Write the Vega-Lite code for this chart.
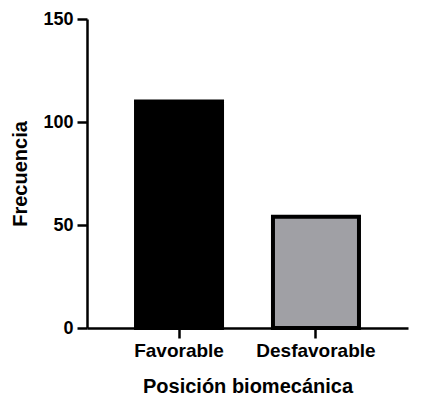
{
  "$schema": "https://vega.github.io/schema/vega-lite/v6.json",
  "width": 321,
  "height": 309,
  "autosize": "none",
  "padding": {"left": 87, "top": 19, "right": 25, "bottom": 83},
  "background": "white",
  "config": {
    "view": {"stroke": null},
    "font": "Liberation Sans",
    "axis": {
      "domainColor": "black",
      "domainWidth": 2.5,
      "tickColor": "black",
      "tickWidth": 2.5,
      "tickSize": 10,
      "labelColor": "black",
      "labelFont": "Liberation Sans",
      "labelFontWeight": "bold",
      "labelFontSize": 18,
      "titleColor": "black",
      "titleFont": "Liberation Sans",
      "titleFontWeight": "bold",
      "titleFontSize": 20,
      "grid": false
    }
  },
  "data": {
    "values": [
      {"posicion": "Favorable", "frecuencia": 110},
      {"posicion": "Desfavorable", "frecuencia": 54}
    ]
  },
  "mark": {"type": "bar", "stroke": "black", "strokeWidth": 4},
  "encoding": {
    "x": {
      "field": "posicion",
      "type": "nominal",
      "sort": ["Favorable", "Desfavorable"],
      "title": "Posición biomecánica",
      "scale": {"paddingInner": 0.372, "paddingOuter": 0.358},
      "axis": {"labelAngle": 0, "labelPadding": 3, "labelFontSize": 19, "titlePadding": 16}
    },
    "y": {
      "field": "frecuencia",
      "type": "quantitative",
      "title": "Frecuencia",
      "scale": {"domain": [0, 150], "nice": false},
      "axis": {"values": [0, 50, 100, 150], "labelPadding": 4, "titlePadding": 12}
    },
    "color": {
      "field": "posicion",
      "type": "nominal",
      "scale": {"domain": ["Favorable", "Desfavorable"], "range": ["#000000", "#a0a0a5"]},
      "legend": null
    }
  }
}
